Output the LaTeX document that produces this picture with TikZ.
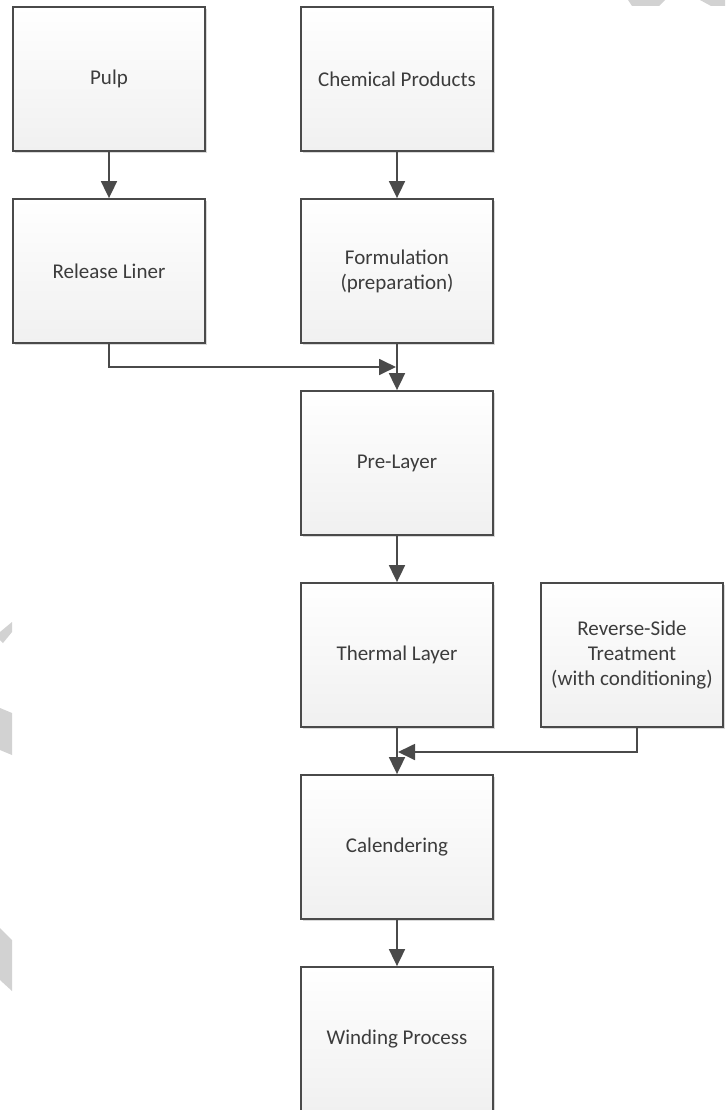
\documentclass[tikz,border=0pt]{standalone}
\usepackage{fontspec}
\setmainfont{Carlito}
\usetikzlibrary{arrows.meta,shadows}
\definecolor{linegrey}{HTML}{4A4A4A}
\definecolor{textgrey}{HTML}{3C3C3C}
\definecolor{boxbottom}{HTML}{F0F0F0}
\definecolor{wmgrey}{HTML}{D2D2D2}
\begin{document}
\begin{tikzpicture}[x=1pt,y=-1pt,
  procbox/.style={draw=linegrey, line width=1.8pt, rectangle,
    minimum width=192pt, minimum height=144pt, inner sep=0pt,
    top color=white, bottom color=boxbottom,
    align=center, text=textgrey,
    font=\fontsize{21}{25}\selectfont,
    drop shadow={shadow xshift=2pt, shadow yshift=-2pt, opacity=0.15, fill=black}},
  conn/.style={draw=linegrey, line width=1.8pt},
  arr/.style={conn, -{Triangle[length=17pt,width=16pt]}}]
\useasboundingbox (0,0) rectangle (725,1110);
\fill[white] (0,0) rectangle (725,1110);
% watermark fragments
\fill[wmgrey] (628,0) -- (665,0) -- (659,6) -- (632,6) -- cycle;
\fill[wmgrey] (700,0) -- (725,0) -- (725,6) -- (711,6) -- cycle;
\fill[wmgrey] (0,632) -- (12,622) -- (12,632) -- (3,643) -- (0,640) -- cycle;
\fill[wmgrey] (0,708) -- (12,713) -- (12,755) -- (0,750) -- cycle;
\fill[wmgrey] (0,928) -- (12,940) -- (12,991) -- (0,980) -- cycle;
% boxes
\node[procbox] (pulp) at (109,79) {Pulp};
\node[procbox] (chem) at (397,79) {Chemical Products};
\node[procbox] (release) at (109,271) {Release Liner};
\node[procbox] (form) at (397,271) {Formulation\\(preparation)};
\node[procbox] (pre) at (397,463) {Pre-Layer};
\node[procbox] (thermal) at (397,655) {Thermal Layer};
\node[procbox, minimum width=182pt] (reverse) at (632,655) {Reverse-Side\\Treatment\\(with conditioning)};
\node[procbox] (cal) at (397,847) {Calendering};
\node[procbox] (wind) at (397,1039) {Winding Process};
% junction coordinates
\coordinate (j1) at (396,367);
\coordinate (rs) at (637,727);
\coordinate (j2) at (398,752);
% connectors
\draw[arr] (pulp) -- (release);
\draw[arr] (chem) -- (form);
\draw[arr] (release.south) |- (j1);
\draw[arr] (form) -- (pre);
\draw[arr] (pre) -- (thermal);
\draw[arr] (rs) |- (j2);
\draw[arr] (thermal) -- (cal);
\draw[arr] (cal) -- (wind);
\end{tikzpicture}
\end{document}
